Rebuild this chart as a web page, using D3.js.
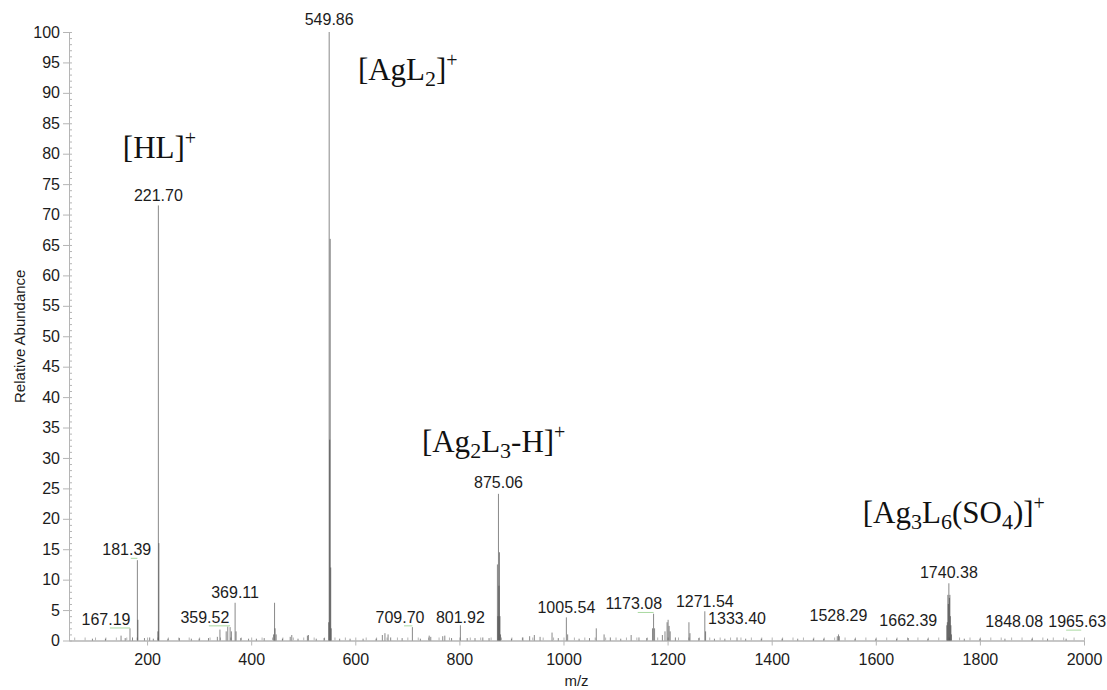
<!DOCTYPE html>
<html>
<head>
<meta charset="utf-8">
<script src="https://cdn.jsdelivr.net/npm/d3@7"></script>
<style>
  body { margin: 0; background: #fff; }
  svg { display: block; }
</style>
</head>
<body>
<svg id="chart" width="1107" height="690"></svg>
<script>
// ---- spectrum data: m/z and relative abundance (%) ----
const mzDomain = [50, 2000];
const abundDomain = [0, 100];

// main ions and their isotope neighbours
const clusterMz = [
  181.39, 182.40,
  220.70, 221.70, 222.70,
  548.86, 549.86, 550.86, 551.86, 552.86, 553.86,
  873.06, 874.06, 875.06, 876.06, 877.06, 878.06, 879.06,
  1736.40, 1737.40, 1738.40, 1739.40, 1740.38, 1741.40, 1742.40, 1743.40, 1744.40, 1745.40
];
const clusterAbund = [
  13.2, 3.4,
  1.5, 71.5, 16.0,
  3.0, 100, 33.0, 66.0, 12.0, 2.0,
  12.5, 4.0, 24.1, 9.0, 14.5, 4.0, 1.0,
  2.5, 3.0, 7.5, 6.0, 9.4, 7.0, 7.5, 4.0, 2.5, 1.0
];

// smaller ions and background
const minorMz = [
  95, 120, 150, 158, 167.19, 172, 195, 205, 212, 240, 262, 285, 300, 318,
  335, 340, 352, 355, 359.52, 362, 369.11, 371, 380, 395, 410, 425,
  443, 444.9, 446, 448, 460, 475, 478, 490, 508, 510, 525, 540,
  570, 590, 615, 640, 652, 657, 663, 668, 690, 709.70, 725, 742, 745,
  768, 772, 785, 801.92, 815, 830, 845, 857,
  900, 922, 935, 944, 955, 978, 990, 1005.54, 1008, 1030, 1050, 1063, 1078,
  1090, 1110, 1130, 1145, 1160, 1171, 1173.08, 1175, 1190, 1195, 1199, 1201,
  1203, 1205, 1215, 1241, 1243, 1260, 1271.54, 1273, 1290, 1310, 1333.40,
  1350, 1380, 1420, 1450, 1480, 1500, 1526, 1528.29, 1530, 1560, 1600, 1640,
  1662.39, 1700, 1770, 1800, 1848.08, 1900, 1930, 1965.63
];
const minorAbund = [
  0.3, 0.3, 0.8, 0.4, 2.0, 0.5, 0.4, 0.5, 0.3, 0.3, 0.4, 0.3, 0.3, 0.4,
  0.6, 1.8, 1.5, 2.3, 2.2, 1.5, 6.2, 1.5, 0.4, 0.3, 0.3, 0.4,
  1.0, 6.2, 2.0, 1.0, 0.3, 0.6, 0.9, 0.3, 0.8, 0.9, 0.3, 0.4,
  0.3, 0.3, 0.3, 0.3, 0.9, 1.2, 1.0, 0.5, 0.4, 2.2, 0.3, 0.8, 0.6,
  0.7, 0.8, 0.4, 2.5, 0.4, 0.4, 0.5, 0.4,
  0.3, 0.5, 0.7, 0.9, 0.6, 1.3, 0.4, 3.8, 1.0, 0.3, 0.4, 2.0, 1.0,
  0.5, 0.3, 0.9, 0.5, 0.4, 2.0, 4.4, 2.0, 0.9, 1.5, 3.0, 3.4,
  2.4, 1.5, 0.5, 3.0, 1.2, 0.4, 4.8, 1.5, 0.3, 0.3, 0.5,
  0.3, 0.3, 0.3, 0.3, 0.3, 0.3, 0.7, 1.0, 0.7, 0.3, 0.3, 0.3,
  0.4, 0.3, 0.3, 0.3, 0.3, 0.3, 0.3, 0.3
];

// labelled peaks: m/z shown, and where the label sits (m/z, abundance of baseline)
const labelMz        = [167.19, 181.39, 221.70, 359.52, 369.11, 549.86, 709.70, 801.92, 875.06, 1005.54, 1173.08, 1271.54, 1333.40, 1528.29, 1662.39, 1740.38, 1848.08, 1965.63];
const labelAtMz      = [121,    161,    221.70, 311,    369.11, 549.86, 686,    801.92, 875.06, 1005.54, 1135,    1271.54, 1333.40, 1528.29, 1662.39, 1740.38, 1866,    1987];
const labelAtAbund   = [2.55,   14.0,   72.2,   2.9,    7.0,    101.1,  2.9,    2.9,    25.1,   4.5,     5.1,     5.5,     2.7,     3.2,     2.4,     10.3,    2.2,     2.2];
const labelLeader    = [true,   true,   false,  true,   false,  false,  true,   false,  false,  false,   true,    false,   false,   false,   false,   false,   false,   true];

// ion assignments: [text, role] pieces, anchored at (m/z, abundance)
const ionNames = [
  [["[HL]", "n"], ["+", "sup"]],
  [["[AgL", "n"], ["2", "sub"], ["]", "n"], ["+", "sup"]],
  [["[Ag", "n"], ["2", "sub"], ["L", "n"], ["3", "sub"], ["-H]", "n"], ["+", "sup"]],
  [["[Ag", "n"], ["3", "sub"], ["L", "n"], ["6", "sub"], ["(SO", "n"], ["4", "sub"], [")]", "n"], ["+", "sup"]]
];
const ionAtMz    = [153.5, 605, 728, 1575];
const ionAtAbund = [79.3, 92.1, 31.0, 19.3];

const yTicks = d3.range(0, 101, 5);
const yMinor = d3.range(0, 101, 1);
const xTicks = d3.range(200, 2001, 200);
const xMinor = d3.range(60, 2001, 20);

// ---- drawing ----
const svg = d3.select("#chart");
const x = d3.scaleLinear().domain(mzDomain).range([69, 1084]);
const y = d3.scaleLinear().domain(abundDomain).range([640.5, 32]);

const axisColor = "#b5b5b5";
const textFont = "'Liberation Sans', Arial, Helvetica, sans-serif";
const serifFont = "'Liberation Serif', 'Times New Roman', Times, serif";
const labelSize = "16px";

// axes
const gy = svg.append("g").attr("transform", `translate(${x.range()[0]},0)`);
gy.call(d3.axisLeft(y).tickValues(yTicks).tickSize(6).tickSizeOuter(0).tickPadding(3));
const gyMinor = svg.append("g").attr("transform", `translate(${x.range()[0]},0)`);
gyMinor.call(d3.axisRight(y).tickValues(yMinor).tickSize(3).tickSizeOuter(0).tickFormat(""));

const gx = svg.append("g").attr("transform", `translate(0,${y(0)})`);
gx.call(d3.axisBottom(x).tickValues(xTicks).tickFormat(d3.format("d"))
  .tickSize(5).tickSizeOuter(0).tickPadding(8));
const gxMinor = svg.append("g").attr("transform", `translate(0,${y(0)})`);
gxMinor.call(d3.axisTop(x).tickValues(xMinor).tickSize(3).tickSizeOuter(0).tickFormat(""));

[gy, gyMinor, gx, gxMinor].forEach(g => {
  g.selectAll("path.domain").attr("stroke", axisColor).attr("stroke-width", 1);
  g.selectAll(".tick line").attr("stroke", axisColor).attr("stroke-width", 1);
  g.selectAll(".tick text")
    .attr("fill", "#1c1c1c")
    .style("font-family", textFont)
    .style("font-size", labelSize);
});

// axis titles
svg.append("text")
  .attr("x", (x.range()[0] + x.range()[1]) / 2)
  .attr("y", 686)
  .attr("text-anchor", "middle")
  .attr("fill", "#1c1c1c")
  .style("font-family", textFont)
  .style("font-size", "15px")
  .text("m/z");

svg.append("text")
  .attr("transform", `translate(25,${(y(0) + y(100)) / 2}) rotate(-90)`)
  .attr("text-anchor", "middle")
  .attr("fill", "#1c1c1c")
  .style("font-family", textFont)
  .style("font-size", "15px")
  .text("Relative Abundance");

// spectrum sticks; translucent so that neighbouring isotopes build up darker
const sticks = d3.zip(minorMz, minorAbund).concat(d3.zip(clusterMz, clusterAbund))
  .sort((a, b) => b[1] - a[1]);
svg.append("g")
  .selectAll("line")
  .data(sticks)
  .join("line")
  .attr("x1", d => x(d[0]))
  .attr("x2", d => x(d[0]))
  .attr("y1", y(0))
  .attr("y2", d => y(d[1]))
  .attr("stroke", "#3a3a3a")
  .attr("stroke-opacity", 0.6)
  .attr("stroke-width", 1);

// peak labels with leader lines where the label is displaced
const labels = labelMz.map((m, i) => ({
  mz: m, at: labelAtMz[i], ab: labelAtAbund[i], leader: labelLeader[i]
}));

svg.append("g")
  .selectAll("line")
  .data(labels.filter(d => d.leader))
  .join("line")
  .attr("x1", d => x(d.at) + 4)
  .attr("x2", d => x(d.mz))
  .attr("y1", d => y(d.ab) + 3)
  .attr("y2", d => y(d.ab) + 3)
  .attr("stroke", "#a9d9a0")
  .attr("stroke-width", 1);

svg.append("g")
  .selectAll("text")
  .data(labels)
  .join("text")
  .attr("x", d => x(d.at))
  .attr("y", d => y(d.ab))
  .attr("text-anchor", "middle")
  .attr("fill", "#1c1c1c")
  .style("font-family", textFont)
  .style("font-size", labelSize)
  .text(d => d.mz.toFixed(2));

// ion assignments
const ionSize = 31;
ionNames.forEach((parts, i) => {
  const t = svg.append("text")
    .attr("x", x(ionAtMz[i]))
    .attr("y", y(ionAtAbund[i]))
    .attr("fill", "#111")
    .style("font-family", serifFont)
    .style("font-size", ionSize + "px");
  let shift = 0;
  parts.forEach(([s, role]) => {
    let target = 0, size = ionSize;
    if (role === "sub") { target = 6; size = 22; }
    if (role === "sup") { target = -13; size = 20; }
    t.append("tspan")
      .attr("dy", target - shift)
      .style("font-size", size + "px")
      .text(s);
    shift = target;
  });
});
</script>
</body>
</html>
